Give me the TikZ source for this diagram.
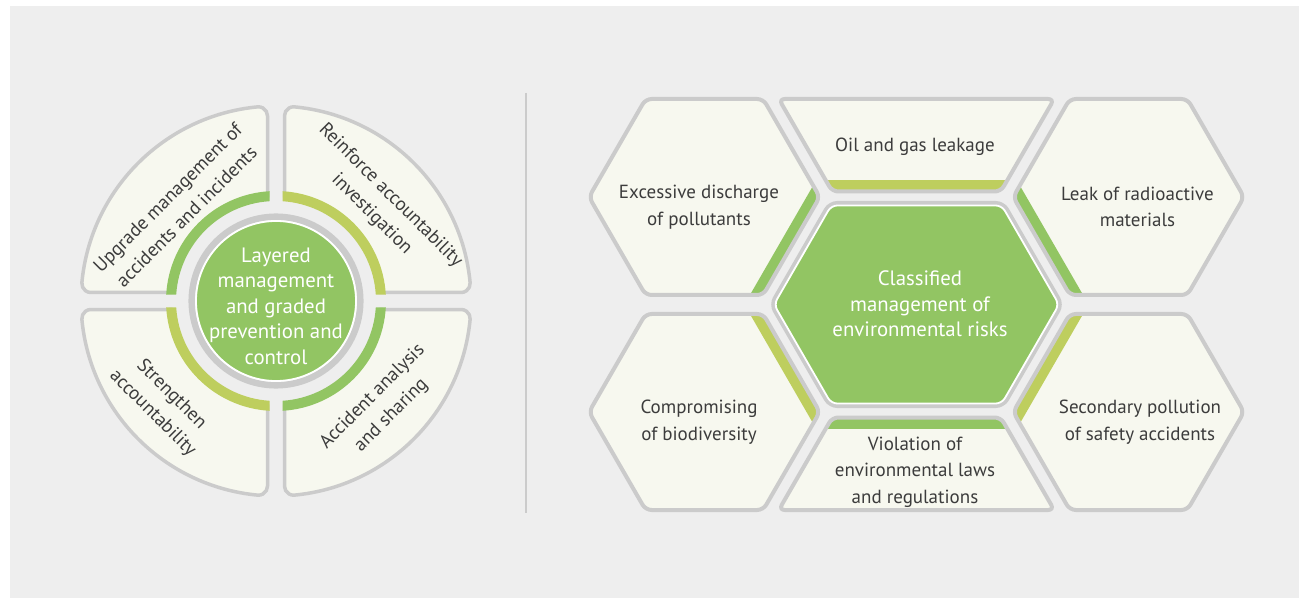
\documentclass[tikz,border=0pt]{standalone}
\usepackage{fontspec}
\setmainfont{PT Sans}
\usetikzlibrary{calc}
\definecolor{bgc}{HTML}{EEEEEE}
\definecolor{cream}{HTML}{F7F8EF}
\definecolor{edgec}{HTML}{CBCBCB}
\definecolor{grn}{HTML}{92C563}
\definecolor{ygr}{HTML}{BECE5E}
\definecolor{txt}{HTML}{3C3C3C}
\tikzset{
  cellfill/.style={fill=cream},
  cellline/.style={draw=edgec, line width=4pt, rounded corners=6pt},
  quad/.style={fill=cream, draw=edgec, line width=3.5pt, line join=round},
  lbl/.style={text=txt, align=center, inner sep=0pt, font=\fontsize{19}{26.5}\selectfont},
  wlbl/.style={text=white, align=center, inner sep=0pt, font=\fontsize{20.8}{25.5}\selectfont},
}
\begin{document}
\begin{tikzpicture}[x=1pt,y=1pt]
\useasboundingbox (0,0) rectangle (1299,598);
\fill[white] (0,0) rectangle (1299,598);
\fill[bgc] (10,0) rectangle (1299,592);
% ---------- left: circle with four quadrants ----------
\pgfmathsetmacro{\Ro}{195}
\pgfmathsetmacro{\ri}{104}
\pgfmathsetmacro{\dd}{8.5}
\pgfmathsetmacro{\rh}{9}
\pgfmathsetmacro{\Fx}{-(\dd+\rh)}
\pgfmathsetmacro{\Fy}{(\Ro-\rh)*sqrt(1-((\dd+\rh)/(\Ro-\rh))^2)}
\pgfmathsetmacro{\phiA}{atan2(\Fy,\Fx)}
\pgfmathsetmacro{\phiB}{270-\phiA}
\pgfmathsetmacro{\al}{asin(\dd/\ri)}
\pgfmathsetmacro{\inx}{-\ri*cos(\al)}
\pgfmathsetmacro{\ee}{6.5}
\pgfmathsetmacro{\bA}{asin(\ee/110)}
\pgfmathsetmacro{\bB}{asin(\ee/100)}
\foreach \sx/\sy/\col in {1/1/grn, -1/1/ygr, 1/-1/ygr, -1/-1/grn}{
  \begin{scope}[shift={(276,297)}, xscale=\sx, yscale=\sy]
    \filldraw[quad] (-\dd,\Fy) arc[start angle=0, end angle=\phiA, radius=\rh]
      arc[start angle=\phiA, end angle=\phiB, radius=\Ro]
      arc[start angle=\phiB, end angle=270, radius=\rh]
      -- (\inx,\dd) arc[start angle=180-\al, end angle=90+\al, radius=\ri] -- cycle;
    \fill[\col] ({90+\bA}:110) arc[start angle=90+\bA, end angle=180-\bA, radius=110]
      -- ({180-\bB}:100) arc[start angle=180-\bB, end angle=90+\bB, radius=100] -- cycle;
  \end{scope}
}
\draw[edgec, line width=6.5pt] (276,297) circle[radius=84.3];
\filldraw[fill=grn, draw=white, line width=1.8pt] (276,297) circle[radius=80];
\node[wlbl] (core) at (276,292) {Layered\\management\\and graded\\prevention and\\control};
\node[lbl, rotate=45] (q1) at (177,391) {Upgrade management of\\accidents and incidents};
\node[lbl, rotate=-45] (q2) at (381,393) {Reinforce accountability\\investigation};
\node[lbl, rotate=-45] (q3) at (162,194) {Strengthen\\accountability};
\node[lbl, rotate=45] (q4) at (382,192) {Accident analysis\\and sharing};
% divider
\draw[edgec, line width=2pt] (526,505) -- (526,85);
% ---------- right: honeycomb ----------
\foreach \sx/\sy/\col in {1/1/grn, -1/1/grn, 1/-1/ygr, -1/-1/ygr}{
  \begin{scope}[shift={(916.5,293.5)}, xscale=\sx, yscale=\sy]
    \fill[cellfill, rounded corners=6pt] (-327.5,107.5) -- (-270.9,205.5) -- (-153.3,205.5) -- (-96.7,107.5) -- (-153.3,9.5) -- (-270.9,9.5) -- cycle;
    \begin{scope}
      \clip[rounded corners=6pt] (-327.5,107.5) -- (-270.9,205.5) -- (-153.3,205.5) -- (-96.7,107.5) -- (-153.3,9.5) -- (-270.9,9.5) -- cycle;
      \draw[\col, line width=23pt] (-86.7,124.8) -- (-163.3,-7.8);
    \end{scope}
    \draw[cellline] (-327.5,107.5) -- (-270.9,205.5) -- (-153.3,205.5) -- (-96.7,107.5) -- (-153.3,9.5) -- (-270.9,9.5) -- cycle;
  \end{scope}
}
\foreach \sy/\col in {1/ygr, -1/grn}{
  \begin{scope}[shift={(916.5,293.5)}, yscale=\sy]
    \fill[cellfill, rounded corners=6pt] (-137.7,205.5) -- (137.7,205.5) -- (84.3,113) -- (-84.3,113) -- cycle;
    \begin{scope}
      \clip[rounded corners=6pt] (-137.7,205.5) -- (137.7,205.5) -- (84.3,113) -- (-84.3,113) -- cycle;
      \draw[\col, line width=23pt] (-110,113) -- (110,113);
    \end{scope}
    \draw[cellline] (-137.7,205.5) -- (137.7,205.5) -- (84.3,113) -- (-84.3,113) -- cycle;
  \end{scope}
}
\begin{scope}[shift={(916.5,293.5)}]
  \draw[edgec, line width=9pt, rounded corners=6pt] (-142.5,0) -- (-85.3,99) -- (85.3,99) -- (142.5,0) -- (85.3,-99) -- (-85.3,-99) -- cycle;
  \filldraw[fill=grn, draw=white, line width=1.8pt, rounded corners=6pt] (-142.5,0) -- (-85.3,99) -- (85.3,99) -- (142.5,0) -- (85.3,-99) -- (-85.3,-99) -- cycle;
\end{scope}
\node[wlbl] (hub) at (920,294) {Classified\\management of\\environmental risks};
\node[lbl] (c1) at (699,391) {Excessive discharge\\of pollutants};
\node[lbl] (c2) at (915,451) {Oil and gas leakage};
\node[lbl] (c3) at (1137.5,391) {Leak of radioactive\\materials};
\node[lbl] (c4) at (1140,176) {Secondary pollution\\of safety accidents};
\node[lbl] (c5) at (915,126) {Violation of\\environmental laws\\and regulations};
\node[lbl] (c6) at (699,176) {Compromising\\of biodiversity};
\end{tikzpicture}
\end{document}
